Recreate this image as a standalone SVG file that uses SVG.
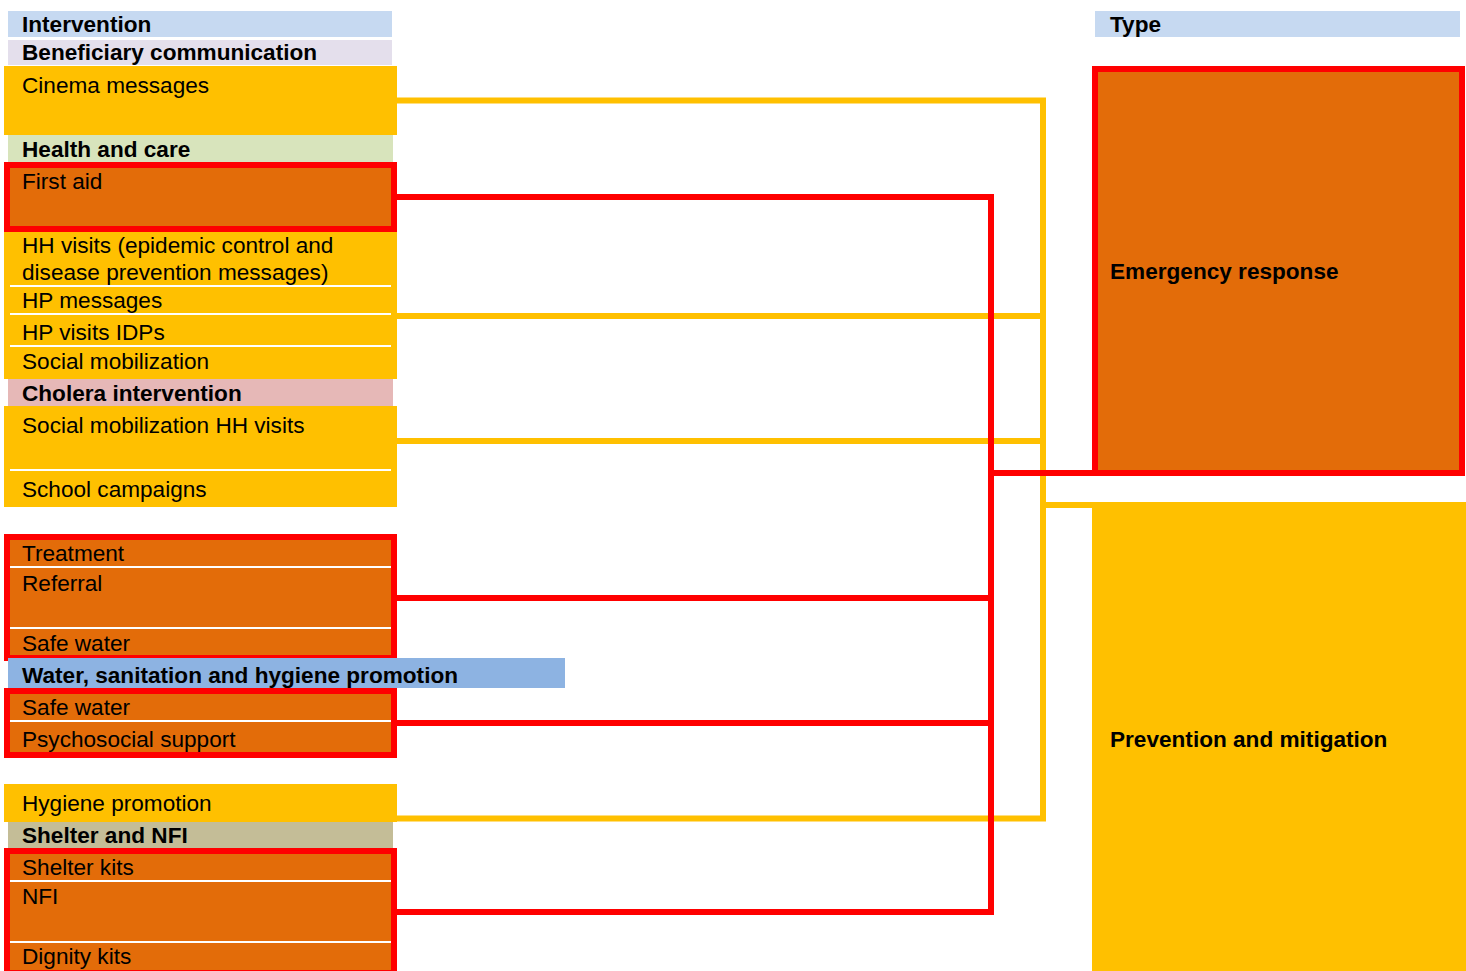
<svg xmlns="http://www.w3.org/2000/svg" width="1466" height="971" viewBox="0 0 1466 971">
<style>
text{font-family:"Liberation Sans",Arial,sans-serif;font-size:22.6px;fill:#000}
.b{font-weight:bold}
.y{fill:#FFC000}
.o{fill:#E36C09}
.frame{fill:none;stroke:#FF0000;stroke-width:6}
.sep{stroke:#FFFFFF;stroke-width:2}
.cy{fill:none;stroke:#FFC000;stroke-width:6}
.cr{fill:none;stroke:#FF0000;stroke-width:6}
</style>
<rect width="1466" height="971" fill="#FFFFFF"/>

<g id="hdr-intervention"><rect x="8" y="11" width="384" height="26" fill="#C6D9F1"/><text x="22" y="32" class="b">Intervention</text></g>
<g id="hdr-benef"><rect x="8" y="40" width="384" height="25" fill="#E4DFEC"/><text x="22" y="60" class="b">Beneficiary communication</text></g>
<g id="cinema"><rect x="4" y="66" width="393" height="69" class="y"/><text x="22" y="93">Cinema messages</text></g>
<g id="hdr-health"><rect x="8" y="135" width="385" height="27" fill="#D8E4BC"/><text x="22" y="157" class="b">Health and care</text></g>
<g id="firstaid"><rect x="7" y="165" width="387" height="64" class="o"/><rect x="7" y="165" width="387" height="64" class="frame"/><text x="22" y="189">First aid</text></g>
<g id="health-prev">
<rect x="4" y="232" width="393" height="147" class="y"/>
<line x1="10" y1="286" x2="391" y2="286" class="sep"/>
<line x1="10" y1="314" x2="391" y2="314" class="sep"/>
<line x1="10" y1="346" x2="391" y2="346" class="sep"/>
<text x="22" y="253">HH visits (epidemic control and</text>
<text x="22" y="280">disease prevention messages)</text>
<text x="22" y="308">HP messages</text>
<text x="22" y="340">HP visits IDPs</text>
<text x="22" y="369">Social mobilization</text>
</g>
<g id="hdr-cholera"><rect x="8" y="379" width="385" height="27" fill="#E6B8B7"/><text x="22" y="401" class="b">Cholera intervention</text></g>
<g id="cholera-prev">
<rect x="4" y="406" width="393" height="101" class="y"/>
<line x1="10" y1="470" x2="391" y2="470" class="sep"/>
<text x="22" y="433">Social mobilization HH visits</text>
<text x="22" y="497">School campaigns</text>
</g>
<g id="cholera-emerg">
<rect x="7" y="537" width="387" height="121" class="o"/>
<line x1="9" y1="567" x2="391" y2="567" class="sep"/>
<line x1="9" y1="628" x2="391" y2="628" class="sep"/>
<rect x="7" y="537" width="387" height="121" class="frame"/>
<text x="22" y="561">Treatment</text>
<text x="22" y="591">Referral</text>
<text x="22" y="651">Safe water</text>
</g>
<g id="hdr-wash"><rect x="8" y="658" width="557" height="30" fill="#8DB3E2"/><text x="22" y="683" class="b">Water, sanitation and hygiene promotion</text></g>
<g id="wash-emerg">
<rect x="7" y="691" width="387" height="64" class="o"/>
<line x1="9" y1="721" x2="391" y2="721" class="sep"/>
<rect x="7" y="691" width="387" height="64" class="frame"/>
<text x="22" y="715">Safe water</text>
<text x="22" y="747">Psychosocial support</text>
</g>
<g id="hygiene"><rect x="4" y="784" width="393" height="38" class="y"/><text x="22" y="811">Hygiene promotion</text></g>
<g id="hdr-shelter"><rect x="8" y="822" width="385" height="26" fill="#C4BD97"/><text x="22" y="843" class="b">Shelter and NFI</text></g>
<g id="shelter-emerg">
<rect x="7" y="851" width="387" height="122" class="o"/>
<line x1="9" y1="881" x2="391" y2="881" class="sep"/>
<line x1="9" y1="942" x2="391" y2="942" class="sep"/>
<rect x="7" y="851" width="387" height="122" class="frame"/>
<text x="22" y="875">Shelter kits</text>
<text x="22" y="904">NFI</text>
<text x="22" y="964">Dignity kits</text>
</g>

<g id="hdr-type"><rect x="1095" y="11" width="365" height="26" fill="#C6D9F1"/><text x="1110" y="32" class="b">Type</text></g>
<g id="emergency"><rect x="1095" y="69" width="367" height="404" class="o"/><rect x="1095" y="69" width="367" height="404" class="frame"/><text x="1110" y="279" class="b">Emergency response</text></g>
<g id="prevention"><rect x="1092" y="502" width="374" height="469" class="y"/><text x="1110" y="747" class="b">Prevention and mitigation</text></g>

<g id="connectors">
<polyline class="cy" points="397,100.5 1043,100.5 1043,818.5"/>
<line class="cy" x1="397" y1="316" x2="1043" y2="316"/>
<line class="cy" x1="397" y1="441" x2="1043" y2="441"/>
<line class="cy" x1="397" y1="818.5" x2="1046" y2="818.5"/>
<line class="cy" x1="1043" y1="505" x2="1092" y2="505"/>
<polyline class="cr" points="397,197 991,197 991,912"/>
<line class="cr" x1="991" y1="473" x2="1095" y2="473"/>
<line class="cr" x1="397" y1="598" x2="991" y2="598"/>
<line class="cr" x1="397" y1="723" x2="991" y2="723"/>
<line class="cr" x1="397" y1="912" x2="994" y2="912"/>
</g>
</svg>
